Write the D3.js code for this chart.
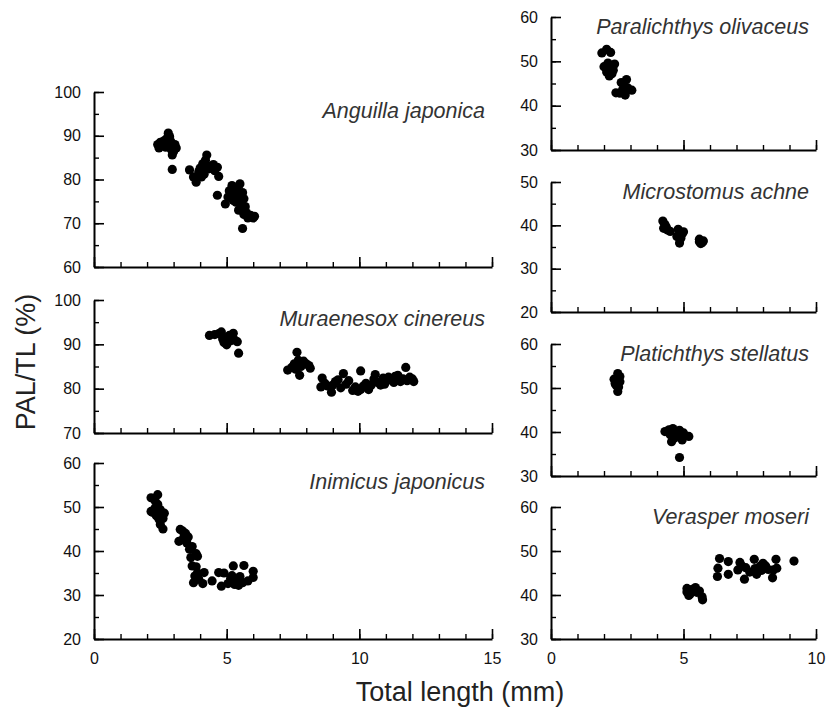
<!DOCTYPE html>
<html>
<head>
<meta charset="utf-8">
<script src="https://cdn.jsdelivr.net/npm/d3@7"></script>
<style>
  body { margin: 0; background: #fff; }
  text { font-family: "Liberation Sans", Arial, sans-serif; }
</style>
</head>
<body>
<div id="my_dataviz"></div>
<script>

// data: [total length (mm), PAL/TL (%)]
var anguilla = [
  [2.4,88.0],[2.45,87.2],[2.5,88.5],[2.6,87.8],[2.65,88.9],[2.7,87.4],[2.75,89.4],[2.8,90.6],[2.8,88.2],
  [2.85,89.8],[2.9,87.0],[2.9,88.6],[2.95,85.6],[3.0,86.4],[3.0,87.6],[3.05,88.0],[3.1,87.2],[2.95,82.3],
  [3.6,82.2],[3.75,80.6],[3.85,79.4],[3.95,81.8],[4.0,82.6],[4.05,80.6],[4.1,83.6],[4.2,84.4],[4.25,85.6],
  [4.3,82.4],[4.15,81.2],[4.4,83.0],[4.5,83.4],[4.55,82.0],[4.65,82.8],[4.7,80.7],[4.65,76.4],
  [4.95,74.4],[5.05,76.0],[5.1,77.4],[5.2,78.6],[5.25,75.2],[5.3,76.8],[5.35,74.8],[5.4,77.8],[5.5,79.0],
  [5.5,76.0],[5.55,74.2],[5.6,77.0],[5.65,75.6],[5.7,73.8],[5.75,72.4],[5.65,72.0],[5.8,71.2],[5.9,71.8],
  [6.0,71.2],[6.05,71.6],[5.6,68.8],[5.45,73.0]
];
var muraenesox = [
  [4.35,92.0],[4.55,92.2],[4.7,92.4],[4.8,92.8],[4.85,91.2],[4.9,90.4],[5.0,89.9],[5.0,91.6],[5.1,92.0],
  [5.15,90.8],[5.2,91.4],[5.25,92.5],[5.3,91.0],[5.4,90.6],[5.45,88.0],[4.95,90.8],
  [7.3,84.2],[7.45,84.8],[7.55,85.6],[7.65,88.2],[7.7,86.4],[7.75,83.0],[7.8,85.0],[7.9,86.2],[8.0,85.6],
  [8.1,85.2],[8.15,84.6],[7.6,84.4],
  [8.55,80.4],[8.6,82.4],[8.7,81.2],[8.8,80.6],[8.95,79.2],[9.0,80.8],[9.1,81.6],[9.2,82.0],[9.3,80.2],
  [9.4,83.4],[9.5,81.0],[9.6,81.8],[9.75,79.6],[9.85,80.4],[9.95,79.4],[10.05,84.0],[10.05,79.8],[10.15,80.6],
  [10.25,81.2],[10.35,79.8],[10.45,80.8],[10.55,82.2],[10.6,83.2],[10.7,81.4],[10.8,80.8],[10.9,82.4],
  [11.0,81.6],[11.1,82.6],[11.2,82.0],[11.3,81.4],[11.35,82.8],[11.45,83.0],[11.55,81.6],[11.65,82.2],
  [11.75,84.8],[11.8,81.8],[11.9,82.6],[12.0,82.2],[12.05,81.6],[11.5,82.4],[10.95,81.0]
];
var inimicus = [
  [2.15,52.1],[2.4,52.8],[2.3,51.4],[2.15,49.0],[2.3,49.8],[2.4,50.6],[2.5,49.4],[2.35,48.0],[2.45,47.2],
  [2.55,48.2],[2.6,47.4],[2.5,46.0],[2.6,45.0],[2.65,48.6],[2.2,48.8],
  [3.25,44.9],[3.35,44.5],[3.45,44.0],[3.2,42.2],[3.35,42.6],[3.5,41.8],[3.55,43.2],[3.6,40.4],[3.7,41.0],
  [3.65,38.5],[3.85,39.4],[3.9,38.8],[3.7,36.6],[3.85,36.4],[3.8,34.3],[3.75,32.8],[3.95,33.6],[4.1,32.6],
  [4.15,35.1],[3.9,35.0],[3.4,43.4],
  [4.45,33.2],[4.7,35.1],[4.8,32.0],[4.9,35.0],[5.05,32.6],[5.15,33.8],[5.25,36.6],[5.2,34.4],[5.3,32.4],
  [5.4,33.0],[5.5,34.2],[5.65,36.7],[5.6,32.8],[5.8,33.2],[6.0,35.4],[6.0,34.0],[5.45,32.2]
];
var paralichthys = [
  [1.92,51.9],[2.1,52.7],[2.25,52.0],[2.0,48.8],[2.15,49.6],[2.3,49.0],[2.4,49.4],[2.1,47.6],[2.2,46.7],
  [2.3,47.2],[2.35,48.0],[2.45,42.9],[2.65,45.2],[2.85,45.9],[2.8,42.4],[2.7,43.6],[2.9,44.0],[3.05,43.5],
  [2.75,44.8],[2.6,42.8]
];
var microstomus = [
  [4.22,41.0],[4.3,40.2],[4.25,39.3],[4.4,38.9],[4.5,38.6],[4.35,39.6],[4.8,39.1],[4.75,37.4],[4.85,35.9],
  [4.9,37.0],[5.0,38.5],[4.95,38.0],[5.6,36.8],[5.7,36.0],[5.65,35.8],[5.75,36.4],[5.6,36.2]
];
var platichthys = [
  [2.38,52.0],[2.52,53.3],[2.6,52.6],[2.5,51.5],[2.45,50.7],[2.55,50.2],[2.52,49.2],[2.6,51.4],[2.42,51.0],
  [4.3,40.1],[4.45,40.5],[4.6,40.8],[4.7,40.0],[4.5,39.4],[4.55,37.8],[4.75,39.2],[4.85,40.4],[4.95,38.2],
  [5.0,39.8],[5.2,39.0],[4.65,38.6],[4.85,34.2]
];
var verasper = [
  [5.13,41.5],[5.13,40.7],[5.25,40.2],[5.3,41.2],[5.45,41.7],[5.5,40.6],[5.6,40.9],[5.7,39.6],[5.72,38.9],
  [5.2,39.9],
  [6.36,48.3],[6.3,46.1],[6.28,44.2],[6.69,47.6],[6.69,44.7],[7.05,45.7],[7.13,47.4],[7.3,43.6],[7.35,46.2],
  [7.5,45.2],[7.67,48.1],[7.76,44.7],[7.88,46.5],[7.7,46.0],[8.0,47.2],[8.1,46.6],[8.2,45.8],[8.36,43.9],
  [8.39,45.7],[8.49,48.1],[8.52,46.1],[9.17,47.7],[7.95,45.6],[7.2,46.6]
];

var species = ["Anguilla japonica", "Muraenesox cinereus", "Inimicus japonicus",
               "Paralichthys olivaceus", "Microstomus achne", "Platichthys stellatus", "Verasper moseri"];
var speciesData = [anguilla, muraenesox, inimicus, paralichthys, microstomus, platichthys, verasper];
var yDomains = [[60,100], [70,100], [20,60], [30,60], [20,50], [30,60], [30,60]];
var xMax = [15, 15, 15, 10, 10, 10, 10];
var xTickLabels = [false, false, true, false, false, false, true];

// layout of the two columns and the seven panels
var cols = [{left: 94, right: 492}, {left: 551, right: 816}];
var boxes = [
  {col: 0, top: 92,  bottom: 267},
  {col: 0, top: 300, bottom: 433},
  {col: 0, top: 463, bottom: 639},
  {col: 1, top: 17,  bottom: 150},
  {col: 1, top: 182, bottom: 312},
  {col: 1, top: 344, bottom: 476},
  {col: 1, top: 507, bottom: 639}
];

var svg = d3.select("#my_dataviz")
  .append("svg")
    .attr("width", 828)
    .attr("height", 713);

species.forEach(function(name, i) {
  var b = boxes[i], c = cols[b.col];

  var x = d3.scaleLinear().domain([0, xMax[i]]).range([c.left, c.right]);
  var y = d3.scaleLinear().domain(yDomains[i]).range([b.bottom, b.top]);

  var g = svg.append("g");

  // minor ticks first (inward, no labels)
  g.append("g")
    .attr("class", "minor")
    .attr("transform", "translate(0," + b.bottom + ")")
    .call(d3.axisBottom(x).tickValues(d3.range(0, xMax[i] + 1, 1)).tickSize(-5).tickFormat(""))
    .select(".domain").remove();
  g.append("g")
    .attr("class", "minor")
    .attr("transform", "translate(" + c.left + ",0)")
    .call(d3.axisLeft(y).tickValues(d3.range(yDomains[i][0], yDomains[i][1] + 1, 5)).tickSize(-5).tickFormat(""))
    .select(".domain").remove();

  // major ticks
  var xa = d3.axisBottom(x).tickValues(d3.range(0, xMax[i] + 1, 5)).tickSizeInner(-10).tickSizeOuter(0).tickPadding(14);
  if (!xTickLabels[i]) xa.tickFormat("");
  g.append("g")
    .attr("class", "major")
    .attr("transform", "translate(0," + b.bottom + ")")
    .call(xa);
  g.append("g")
    .attr("class", "major")
    .attr("transform", "translate(" + c.left + ",0)")
    .call(d3.axisLeft(y).tickValues(d3.range(yDomains[i][0], yDomains[i][1] + 1, 10))
      .tickSizeInner(-10).tickSizeOuter(0).tickPadding(13));

  // the dots
  g.selectAll("circle")
    .data(speciesData[i])
    .enter()
    .append("circle")
      .attr("cx", function(d) { return x(d[0]); })
      .attr("cy", function(d) { return y(d[1]); })
      .attr("r", 4.6)
      .style("fill", "#000");

  // species name
  g.append("text")
    .attr("x", c.right - 7)
    .attr("y", b.top + (b.col == 0 ? 26 : 17))
    .attr("text-anchor", "end")
    .style("font-size", "21.5px")
    .style("font-style", "italic")
    .style("fill", "#333")
    .text(name);
});

svg.selectAll(".major .domain").style("stroke", "#000").style("stroke-width", 2);
svg.selectAll(".major .tick line").style("stroke", "#000").style("stroke-width", 1.6);
svg.selectAll(".minor .tick line").style("stroke", "#000").style("stroke-width", 1.4);
svg.selectAll(".major").attr("font-size", 16).attr("font-family", "'Liberation Sans', Arial, sans-serif");
svg.selectAll(".tick text").style("fill", "#111");

// axis titles
svg.append("text")
  .attr("transform", "translate(35,362) rotate(-90)")
  .attr("text-anchor", "middle")
  .style("font-size", "27px")
  .style("fill", "#222")
  .text("PAL/TL (%)");

svg.append("text")
  .attr("x", 460)
  .attr("y", 701)
  .attr("text-anchor", "middle")
  .style("font-size", "27px")
  .style("fill", "#222")
  .text("Total length (mm)");

</script>
</body>
</html>
